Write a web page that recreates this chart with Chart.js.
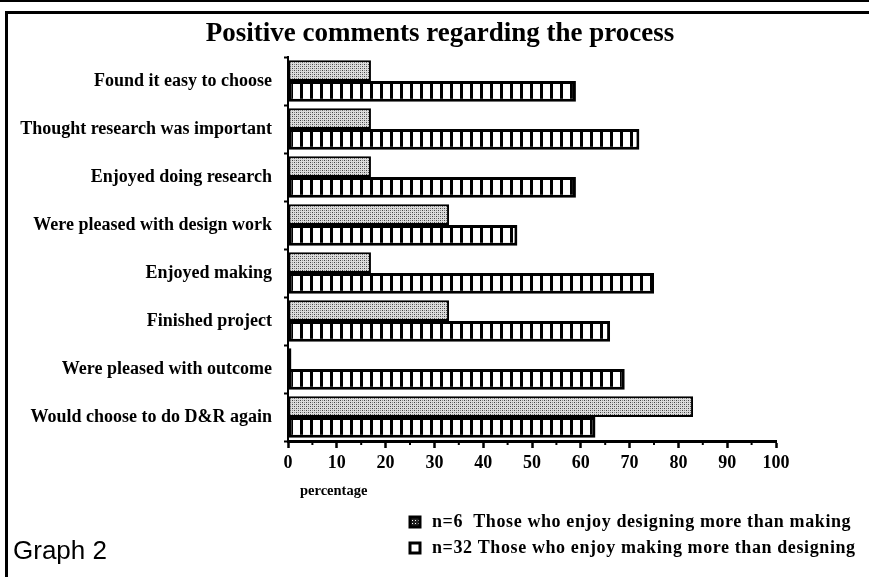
<!DOCTYPE html>
<html><head><meta charset="utf-8">
<script src="https://cdn.jsdelivr.net/npm/chart.js@4/dist/chart.umd.min.js"></script>
<style>html,body{margin:0;padding:0;background:#fff}#wrap{width:869px;height:577px}</style>
</head><body><div id="wrap"><canvas id="c" width="869" height="577"></canvas></div>
<script>
const title = 'Positive comments regarding the process';
const categories = ['Found it easy to choose','Thought research was important','Enjoyed doing research','Were pleased with design work','Enjoyed making','Finished project','Were pleased with outcome','Would choose to do D&R again'];
const designers = [17, 17, 17, 33, 17, 33, 0.7, 83];   // n=6
const makers = [59, 72, 59, 47, 75, 66, 69, 63];       // n=32
const seriesLabels = ['n=6  Those who enjoy designing more than making','n=32 Those who enjoy making more than designing'];
const xTicks = [0,10,20,30,40,50,60,70,80,90,100];
const axisTitle = 'percentage';
const graphLabel = 'Graph 2';

const SERIF = '"Liberation Serif", "Times New Roman", serif';

function stipple(){
  const p = document.createElement('canvas'); p.width = 4; p.height = 4;
  const g = p.getContext('2d');
  g.fillStyle = '#dcdcdc'; g.fillRect(0,0,4,4);
  g.fillStyle = '#444'; g.fillRect(0,0,1,1); g.fillRect(2,2,1,1);
  g.fillStyle = '#888'; g.fillRect(2,0,1,1); g.fillRect(0,2,1,1);
  return g.createPattern(p,'repeat');
}
function iconStipple(){
  const p = document.createElement('canvas'); p.width = 3; p.height = 3;
  const g = p.getContext('2d');
  g.fillStyle = '#222'; g.fillRect(0,0,3,3);
  g.fillStyle = '#fff'; g.fillRect(1,1,1,1);
  return g.createPattern(p,'repeat');
}
function stripes(){
  const p = document.createElement('canvas'); p.width = 10; p.height = 4;
  const g = p.getContext('2d');
  g.fillStyle = '#fff'; g.fillRect(0,0,10,4);
  g.fillStyle = '#000'; g.fillRect(0,0,3,4);
  return g.createPattern(p,'repeat');
}
const grayFill = stipple();
const iconFill = iconStipple();
const stripeFill = stripes();

const decor = {
  id: 'decor',
  beforeDraw(chart){
    const ctx = chart.ctx;
    ctx.save();
    ctx.fillStyle = '#fff'; ctx.fillRect(0,0,chart.width,chart.height);
    ctx.fillStyle = '#000';
    ctx.fillRect(0,0,chart.width,2);
    ctx.fillRect(5,11,chart.width-5,3);
    ctx.fillRect(5,11,3,chart.height-11);
    ctx.restore();
  },
  afterDraw(chart){
    const ctx = chart.ctx;
    const xs = chart.scales.x;
    ctx.save();
    ctx.fillStyle = '#000';
    // title
    ctx.font = 'bold 27px ' + SERIF;
    ctx.textAlign = 'center'; ctx.textBaseline = 'middle';
    ctx.fillText(title, 440, 34);
    // minor ticks
    ctx.strokeStyle = '#000'; ctx.lineWidth = 2;
    for (let v = 5; v < 100; v += 10){
      const px = xs.getPixelForValue(v);
      ctx.beginPath(); ctx.moveTo(px, xs.top); ctx.lineTo(px, xs.top + 4); ctx.stroke();
    }
    // axis title
    ctx.font = 'bold 14.5px ' + SERIF;
    ctx.textAlign = 'left';
    ctx.fillText(axisTitle, 300, 491);
    // graph label
    ctx.font = '26px "Liberation Sans Narrow", "Liberation Sans", Arial, sans-serif';
    ctx.fillText(graphLabel, 13, 552);
    // legend
    const ds = chart.data.datasets;
    const rows = [522, 548];
    ds.forEach((d, i) => {
      const y = rows[i];
      ctx.fillStyle = i === 0 ? iconFill : '#fff';
      ctx.fillRect(410, y-5, 10, 10);
      ctx.strokeStyle = '#000'; ctx.lineWidth = 3;
      ctx.strokeRect(410, y-5, 10, 10);
      ctx.fillStyle = '#000';
      ctx.font = 'bold 18px ' + SERIF;
      ctx.letterSpacing = '0.6px';
      ctx.textAlign = 'left'; ctx.textBaseline = 'middle';
      ctx.fillText(d.label, 432, y);
      ctx.letterSpacing = '0px';
    });
    ctx.restore();
  }
};

new Chart(document.getElementById('c'), {
  type: 'bar',
  data: {
    labels: categories,
    datasets: [
      { label: seriesLabels[0], data: designers, backgroundColor: grayFill, borderColor: '#000', borderWidth: 2, borderSkipped: false },
      { label: seriesLabels[1], data: makers, backgroundColor: stripeFill, borderColor: '#000', borderWidth: 3, borderSkipped: false }
    ]
  },
  options: {
    indexAxis: 'y',
    responsive: false,
    animation: false,
    devicePixelRatio: 1,
    layout: { padding: { left: 0, right: 93, top: 57, bottom: 0 } },
    datasets: { bar: { categoryPercentage: 0.86, barPercentage: 1.0 } },
    plugins: { legend: { display: false }, title: { display: false }, tooltip: { enabled: false } },
    scales: {
      x: {
        min: 0, max: 100,
        afterFit(s){ s.height = 136; },
        afterBuildTicks(s){ s.ticks = xTicks.map(v => ({value: v})); },
        ticks: { color: '#000', font: { family: SERIF, size: 18, weight: 'bold' }, padding: 5, maxRotation: 0, autoSkip: false,
                 callback: (v) => String(v) },
        grid: { drawOnChartArea: false, color: '#000', tickLength: 7, tickWidth: 2.5 },
        border: { color: '#000', width: 3 }
      },
      y: {
        afterFit(s){ s.width = 288; },
        ticks: { color: '#000', font: { family: SERIF, size: 18, weight: 'bold' }, padding: 12, autoSkip: false },
        grid: { drawOnChartArea: false, offset: true, color: '#000', tickLength: 4, tickWidth: 2 },
        border: { color: '#000', width: 2 }
      }
    }
  },
  plugins: [decor]
});
</script>
</body></html>
